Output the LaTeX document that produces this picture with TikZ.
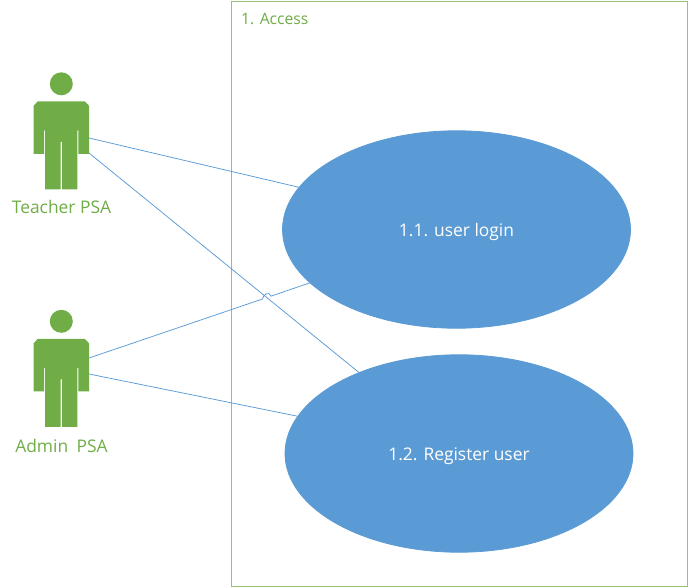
\documentclass[tikz,border=0pt]{standalone}
\usepackage{fontspec}
\setmainfont{Open Sans}
\usetikzlibrary{shapes.geometric,calc}
\definecolor{grn}{HTML}{70AD47}
\definecolor{blu}{HTML}{5B9BD5}
\definecolor{frm}{HTML}{94C276}
\tikzset{
 usecase/.style={ellipse,fill=blu,draw=blu,line width=0.75pt,minimum width=348pt,minimum height=197.5pt,inner sep=0pt,text=white,font=\fontsize{17.4}{20}\selectfont},
 actorlabel/.style={text=grn,inner sep=0pt,font=\fontsize{17.4}{20}\selectfont},
 link/.style={draw=blu,line width=0.75pt},
 actorbody/.pic={
   \fill[grn] (0,-17.5) circle (11.5);
   \fill[grn] (-23.5,0) -- (23.5,0) -- (27.7,4.5) -- (27.7,52.5) -- (17,52.5) -- (17,29) -- (16,29) -- (16,88) -- (0.7,88) -- (0.7,40.5) -- (-0.7,40.5) -- (-0.7,88) -- (-16.3,88) -- (-16.3,29) -- (-17.3,29) -- (-17.3,52.5) -- (-27.7,52.5) -- (-27.7,4.5) -- cycle;
 }
}
\begin{document}
\begin{tikzpicture}[x=1pt,y=-1pt]
\useasboundingbox (0,0) rectangle (689,587);
\fill[white] (0,0) rectangle (689,587);
\draw[frm,line width=1pt] (231,1) rectangle (687,586);
\node[text=grn,inner sep=0pt,anchor=base west,font=\fontsize{15.7}{18}\selectfont] (accesslabel) at (241,24) {1. Access};
\pic at (61.3,101.3) {actorbody};
\pic at (61.3,338.8) {actorbody};
\node[actorlabel,anchor=base] (teacherlabel) at (61.5,213.5) {Teacher PSA};
\node[actorlabel,anchor=base] (adminlabel) at (61.5,452) {Admin\hspace{4pt} PSA};
\coordinate (teacherA) at (89,138);
\coordinate (teacherB) at (89,153);
\coordinate (adminA) at (89,358);
\coordinate (adminB) at (89,374);
\node[usecase,text depth=0pt] (login) at (456.5,229.5) {\raisebox{-1pt}{1.1. user login}};
\node[usecase,text depth=0pt] (register) at (459,453.5) {\raisebox{-1pt}{1.2. Register user}};
\draw[link] (teacherA) -- (login.165.7);
\draw[link] (teacherB) -- (register.141.2);
\coordinate (cross) at (intersection of teacherB--register.141.2 and adminA--login.200);
\coordinate (jumpa) at ($(cross)!4.5pt!(adminA)$);
\coordinate (jumpb) at ($(cross)!4.5pt!(login.200)$);
\draw[link] (adminA) -- (jumpa) .. controls ($(jumpa)+(0.5,-5)$) and ($(jumpb)+(-1.5,-5)$) .. (jumpb) -- (login.200);
\draw[link] (adminB) -- (register.167.9);
\end{tikzpicture}
\end{document}
